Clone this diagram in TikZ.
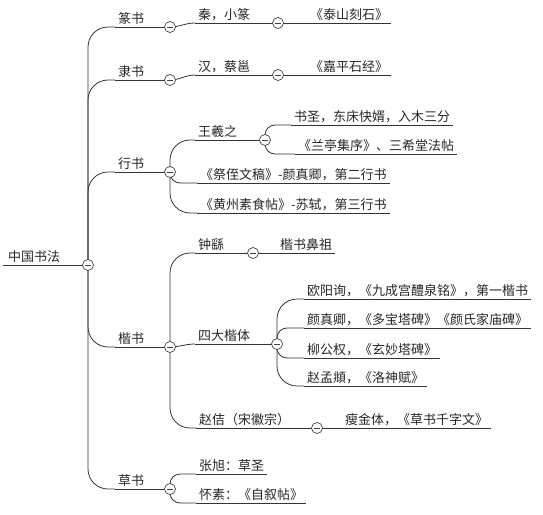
\documentclass[tikz,border=0pt]{standalone}
\usepackage{fontspec}
\newfontfamily\cjk{Noto Sans CJK SC}

\begin{document}
\begin{tikzpicture}[x=1pt, y=-1pt,
    topic/.style={anchor=south west, inner xsep=3pt, inner ysep=3.5pt, text height=10pt, text depth=0pt,
        font=\cjk\fontsize{13}{15}\selectfont, text=black!85},
    fold/.style={circle, draw=black!75, fill=white, line width=0.7pt, minimum size=11pt, inner sep=0pt,
        path picture={\draw[line width=0.7pt] ([xshift=-2.8pt]path picture bounding box.center) -- ([xshift=2.8pt]path picture bounding box.center);}},
    link/.style={draw=black!80, line width=0.8pt},
    elbow/.style={link, rounded corners=20pt},
    hook/.style={link, rounded corners=10pt}]
    \useasboundingbox (0,0) rectangle (543,514);

    % collapse buttons
    \foreach \n/\x/\y in {root/88/265, zhuan/170/27, li/170/80, xing/170/172, kai/170/347, cao/170/489,
        qin/278/23, han/278/75, wang/265/140, zhong/253/253, sida/277/344, zhaoji/317/428}
        \coordinate (\n-f) at (\x,\y);

    \node[topic, inner xsep=5pt] (root) at (3,265) {中国书法};

    \node[topic] (zhuan) at (115,27) {篆书};
    \node[topic] (li) at (115,80) {隶书};
    \node[topic] (xing) at (115,172) {行书};
    \node[topic] (kai) at (115,347) {楷书};
    \node[topic] (cao) at (115,489) {草书};

    \node[topic] (qin) at (195,23) {秦，小篆};
    \node[topic] (tai) at (307,23) {《泰山刻石》};
    \node[topic] (han) at (195,75) {汉，蔡邕};
    \node[topic] (jia) at (307,75) {《嘉平石经》};

    \node[topic] (wang) at (195,140) {王羲之};
    \node[topic] (shusheng) at (291,125) {书圣，东床快婿，入木三分};
    \node[topic] (lanting) at (295,154) {《兰亭集序》、三希堂法帖};
    \node[topic] (jizhi) at (197,183) {《祭侄文稿》-颜真卿，第二行书};
    \node[topic] (huangzhou) at (197,213) {《黄州素食帖》-苏轼，第三行书};

    \node[topic] (zhong) at (195,253) {钟繇};
    \node[topic] (bizu) at (277,253) {楷书鼻祖};
    \node[topic] (sida) at (195,344) {四大楷体};
    \node[topic] (ouyang) at (304,299) {欧阳询，《九成宫醴泉铭》，第一楷书};
    \node[topic] (yan) at (304,328) {颜真卿，《多宝塔碑》《颜氏家庙碑》};
    \node[topic] (liu) at (304,358) {柳公权，《玄妙塔碑》};
    \node[topic] (zhao) at (304,386) {赵孟頫，《洛神赋》};
    \node[topic] (zhaoji) at (196,428) {赵佶（宋徽宗）};
    \node[topic] (shoujin) at (342,428) {瘦金体，《草书千字文》};

    \node[topic] (zhangxu) at (196,474) {张旭：草圣};
    \node[topic] (huaisu) at (196,503) {怀素：《自叙帖》};

    % underlines
    \foreach \n in {root, zhuan, li, xing, kai, cao, qin, han, wang, zhong, sida, zhaoji}
        \draw[link] (\n.south west) -- (\n-f);
    \foreach \n in {tai, jia, shusheng, lanting, jizhi, huangzhou, bizu, ouyang, yan, liu, zhao, shoujin, zhangxu, huaisu}
        \draw[link] (\n.south west) -- (\n.south east);

    % branches
    \foreach \n in {zhuan, li, xing, kai, cao}
        \draw[elbow] (root-f) |- (\n.south west);
    \draw[link] (zhuan-f) to[out=0, in=180] (qin.south west);
    \draw[link] (qin-f) -- (tai.south west);
    \draw[link] (li-f) to[out=0, in=180] (han.south west);
    \draw[link] (han-f) -- (jia.south west);

    \draw[elbow] (xing-f) |- (wang.south west);
    \draw[hook] (xing-f) |- (jizhi.south west);
    \draw[elbow] (xing-f) |- (huangzhou.south west);
    \draw[hook] (wang-f) |- (shusheng.south west);
    \draw[hook] (wang-f) |- (lanting.south west);

    \draw[elbow] (kai-f) |- (zhong.south west);
    \draw[link] (kai-f) to[out=0, in=180] (sida.south west);
    \draw[elbow] (kai-f) |- (zhaoji.south west);
    \draw[link] (zhong-f) -- (bizu.south west);
    \draw[elbow] (sida-f) |- (ouyang.south west);
    \draw[hook] (sida-f) |- (yan.south west);
    \draw[hook] (sida-f) |- (liu.south west);
    \draw[elbow] (sida-f) |- (zhao.south west);
    \draw[link] (zhaoji-f) -- (shoujin.south west);

    \draw[hook] (cao-f) |- (zhangxu.south west);
    \draw[hook] (cao-f) |- (huaisu.south west);

    \foreach \n in {root, zhuan, li, xing, kai, cao, qin, han, wang, zhong, sida, zhaoji}
        \node[fold] at (\n-f) {};
\end{tikzpicture}
\end{document}
